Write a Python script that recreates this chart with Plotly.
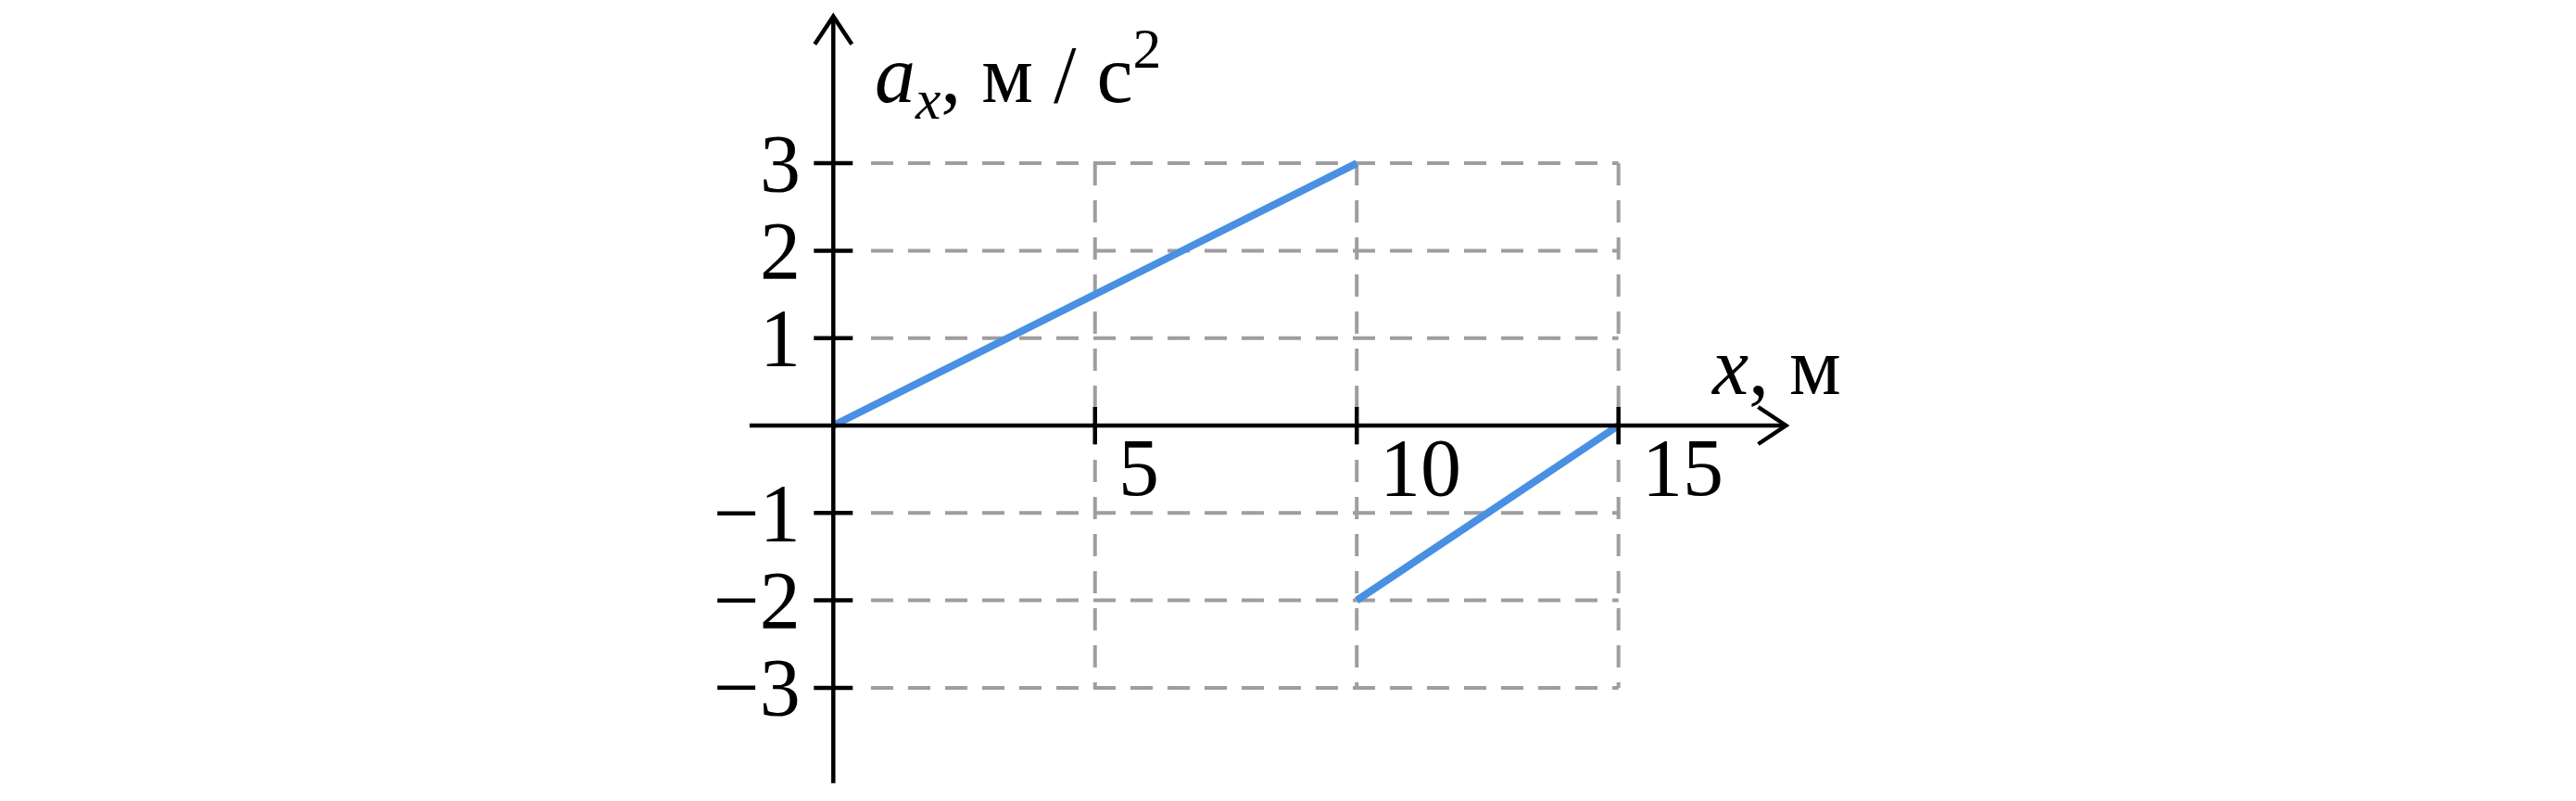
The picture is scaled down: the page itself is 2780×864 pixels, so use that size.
import plotly.graph_objects as go

# ---- data ----
x_seg1 = [0, 10]
a_seg1 = [0, 3]
x_seg2 = [10, 15]
a_seg2 = [-2, 0]

x_ticks = [5, 10, 15]
x_tick_labels = ["5", "10", "15"]
y_ticks = [-3, -2, -1, 1, 2, 3]
y_tick_labels = ["\u22123", "\u22122", "\u22121", "1", "2", "3"]

y_title = "<i>a</i><sub><i>x</i></sub>, м / с<sup>2</sup>"
x_title = "<i>x</i>, м"

# ---- layout geometry ----
W, H = 2780, 864
PX_X0, PPU_X = 899.3, 56.49   # pixel of x=0, pixels per unit
PY_0, PPU_Y = 459.0, 94.3     # pixel of a=0, pixels per unit
x_range = [-PX_X0 / PPU_X, (W - PX_X0) / PPU_X]
y_range = [-(H - PY_0) / PPU_Y, PY_0 / PPU_Y]

X_AX_MIN, X_AX_MAX = -1.6, 18.2
Y_AX_MIN, Y_AX_MAX = -4.09, 4.68
GRID_X_START = 0.72

FONT = "Liberation Serif"
FS = 88
BLUE = "#4a90e2"
GRAY = "#9e9e9e"
DASH = "24px,16px"
AXW = 4.5

fig = go.Figure()

shapes = []
# dashed grid
for yv in y_ticks:
    shapes.append(dict(type="line", xref="x", yref="y", x0=GRID_X_START, x1=max(x_ticks),
                       y0=yv, y1=yv, line=dict(color=GRAY, width=4, dash=DASH), layer="below"))
for xv in x_ticks:
    shapes.append(dict(type="line", xref="x", yref="y", x0=xv, x1=xv,
                       y0=max(y_ticks), y1=min(y_ticks),
                       line=dict(color=GRAY, width=4, dash=DASH), layer="below"))
# axes
shapes.append(dict(type="line", xref="x", yref="y", x0=X_AX_MIN, x1=X_AX_MAX, y0=0, y1=0,
                   line=dict(color="black", width=AXW)))
shapes.append(dict(type="line", xref="x", yref="y", x0=0, x1=0, y0=Y_AX_MIN, y1=Y_AX_MAX,
                   line=dict(color="black", width=AXW)))
# arrow heads
shapes.append(dict(type="path", xref="x", yref="y", xsizemode="pixel", ysizemode="pixel",
                   xanchor=0, yanchor=Y_AX_MAX, path="M -20 -30 L 0 0 L 20 -30",
                   line=dict(color="black", width=AXW)))
shapes.append(dict(type="path", xref="x", yref="y", xsizemode="pixel", ysizemode="pixel",
                   xanchor=X_AX_MAX, yanchor=0, path="M -30 20 L 0 0 L -30 -20",
                   line=dict(color="black", width=AXW)))
# ticks
for yv in y_ticks:
    shapes.append(dict(type="line", xref="x", yref="y", xsizemode="pixel", xanchor=0,
                       x0=-21, x1=21, y0=yv, y1=yv, line=dict(color="black", width=AXW)))
for xv in x_ticks:
    shapes.append(dict(type="line", xref="x", yref="y", ysizemode="pixel", yanchor=0,
                       x0=xv, x1=xv, y0=-20, y1=20, line=dict(color="black", width=AXW)))

fig.add_trace(go.Scatter(x=x_seg1, y=a_seg1, mode="lines",
                         line=dict(color=BLUE, width=8), hoverinfo="skip", showlegend=False))
fig.add_trace(go.Scatter(x=x_seg2, y=a_seg2, mode="lines",
                         line=dict(color=BLUE, width=8), hoverinfo="skip", showlegend=False))

annotations = []
for yv, lab in zip(y_ticks, y_tick_labels):
    annotations.append(dict(x=0, y=yv, xref="x", yref="y", text=lab, showarrow=False,
                            xanchor="right", yanchor="middle", xshift=-34, yshift=0, borderpad=0,
                            font=dict(family=FONT, size=FS, color="black")))
for xv, lab in zip(x_ticks, x_tick_labels):
    annotations.append(dict(x=xv, y=0, xref="x", yref="y", text=lab, showarrow=False,
                            xanchor="left", yanchor="top", xshift=24, yshift=4, borderpad=0,
                            font=dict(family=FONT, size=FS, color="black")))
annotations.append(dict(x=943 / W, y=1 - 80 / H, xref="paper", yref="paper", text=y_title,
                        showarrow=False, xanchor="left", yanchor="middle", borderpad=0,
                        font=dict(family=FONT, size=FS, color="black")))
annotations.append(dict(x=1845 / W, y=1 - 395 / H, xref="paper", yref="paper", text=x_title,
                        showarrow=False, xanchor="left", yanchor="middle", borderpad=0,
                        font=dict(family=FONT, size=FS, color="black")))

fig.update_layout(
    width=W, height=H, autosize=False,
    margin=dict(l=0, r=0, t=0, b=0, pad=0),
    paper_bgcolor="white", plot_bgcolor="white",
    xaxis=dict(range=x_range, visible=False, fixedrange=True),
    yaxis=dict(range=y_range, visible=False, fixedrange=True),
    shapes=shapes, annotations=annotations, showlegend=False,
)

fig.write_html("out.html", config={"displayModeBar": False},
               post_script="document.body.style.margin='0';document.body.style.overflow='hidden';")
